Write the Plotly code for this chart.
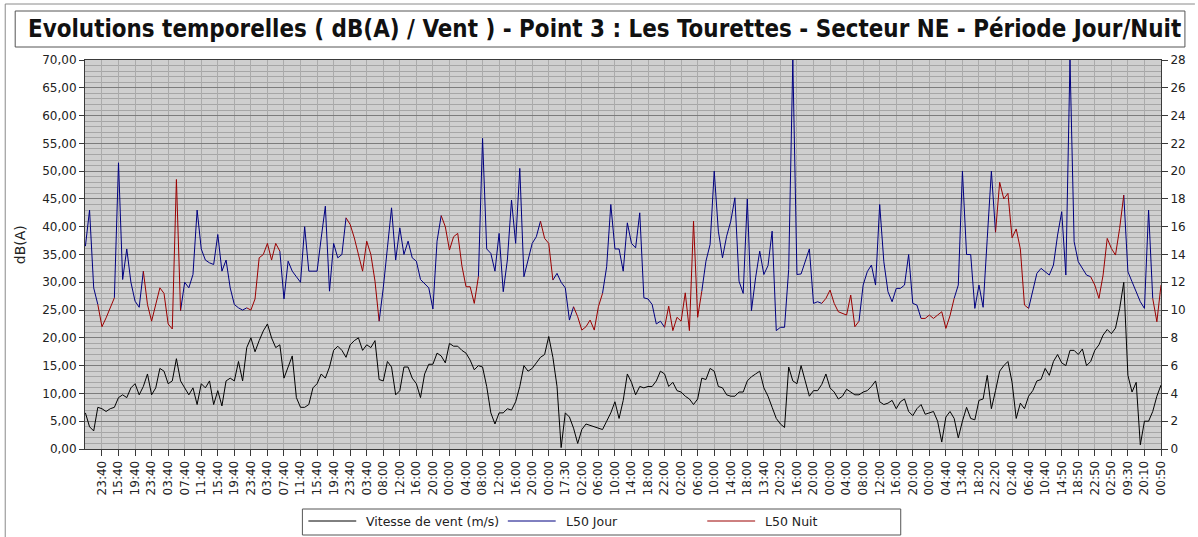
import plotly.graph_objects as go

# Time-of-day labels shown every 4 hours along the x axis
tick_labels = [
    "23:40", "15:40", "19:40", "23:40", "03:40", "07:40", "11:40", "15:40", "19:40", "23:40",
    "03:40", "07:40", "11:40", "15:40", "19:40", "23:40", "03:40", "08:00", "12:00", "16:00",
    "20:00", "00:00", "04:00", "08:00", "12:00", "16:00", "20:00", "00:00", "17:30", "02:00",
    "06:00", "10:00", "14:00", "18:00", "22:00", "02:00", "06:00", "10:00", "14:00", "18:00",
    "13:40", "20:20", "16:00", "20:00", "00:00", "04:00", "08:00", "12:00", "16:00", "20:00",
    "00:00", "04:40", "13:40", "18:20", "22:20", "02:40", "06:40", "10:40", "14:50", "18:50",
    "22:50", "02:50", "09:30", "20:10", "00:50",
]

# Hourly L50 level, dB(A)
l50 = [
    36.5, 43, 29, 26, 22, 23.6, 25.4, 27.2, 51.5, 30.5,
    36, 30, 26.6, 25.5, 32, 26, 23, 26, 29, 28,
    22.5, 21.6, 48.5, 24.9, 30, 29, 31.4, 43, 36, 34,
    33.5, 33.2, 38.6, 32, 34, 29, 26, 25.4, 25, 25.4,
    25, 27, 34.4, 35, 37, 34, 37, 35.6, 27, 33.8,
    32, 31, 30, 40, 32, 32, 32, 38, 43.7, 28.4,
    37, 34.4, 35, 41.6, 40.4, 38, 35, 32, 37.4, 35,
    30.2, 23, 29, 36.2, 43.4, 34, 39.8, 35, 37.4, 34.4,
    33.8, 30.5, 29.7, 29, 25.2, 37.4, 42, 40, 35.8, 38.2,
    38.8, 33, 29.2, 29.2, 26.2, 31, 55.9, 36, 35.2, 32,
    38.8, 28.3, 34, 44.8, 37, 50.5, 31, 34, 37, 38.2,
    41, 37.9, 37, 30.4, 31.6, 30, 29, 23.2, 25.6, 23.8,
    21.4, 22, 23.2, 21.4, 25.6, 28, 32.8, 44, 36, 36,
    32, 40.7, 37, 36.2, 42.5, 27.2, 27, 26, 22.5, 23,
    21.9, 25.7, 21.3, 23.7, 23, 28.1, 21.3, 41, 23.7, 28.4,
    33.8, 36.8, 50, 39.2, 34.4, 38.3, 41, 45.2, 30.2, 28,
    45, 24.9, 30.8, 35.6, 31.4, 33, 39.2, 21.3, 21.9, 21.9,
    32.3, 70, 31.4, 31.5, 33.7, 36, 26.2, 26.5, 26.2, 27.1,
    28.6, 26.2, 24.7, 24.4, 24.1, 27.7, 22, 23, 29.5, 31.9,
    33.1, 29.5, 44, 33.7, 28.3, 26.5, 28.9, 28.9, 29.5, 35,
    26.2, 25.9, 23.5, 23.5, 24.1, 23.5, 24.1, 24.7, 21.7, 24,
    27.1, 29.5, 50, 35, 35, 25.3, 29.5, 25.5, 37.9, 50,
    39, 48, 45, 46, 38, 39.6, 36, 25.9, 25.3, 28.3,
    31.6, 32.5, 31.9, 31.3, 33.1, 38.5, 42.7, 31.3, 70, 37.3,
    33.7, 32.5, 31.3, 31, 29.5, 27.1, 31.3, 37.9, 36.1, 34.9,
    39.7, 45.7, 31.9, 30.1, 28.3, 26.5, 25.3, 43, 27.1, 22.9,
    29.5,
]

# Hourly wind speed, m/s
wind = [
    2.6, 1.6, 1.3, 3.0, 2.9, 2.7, 2.9, 3.0, 3.7, 3.9,
    3.7, 4.4, 4.7, 3.9, 4.5, 5.4, 3.9, 4.4, 5.8, 5.6,
    4.7, 4.9, 6.5, 4.9, 4.4, 3.9, 4.4, 3.2, 4.7, 4.4,
    4.9, 3.2, 4.2, 3.1, 4.9, 5.1, 4.9, 6.3, 4.9, 7.3,
    8.0, 7.0, 7.8, 8.5, 9.0, 8.0, 7.3, 7.5, 5.1, 5.9,
    6.7, 3.7, 3.0, 3.0, 3.2, 4.4, 4.7, 5.4, 5.1, 5.9,
    7.1, 7.4, 7.1, 6.6, 7.5, 7.8, 8.0, 7.1, 7.5, 7.3,
    7.8, 5.0, 4.9, 6.3, 5.9, 3.9, 4.2, 5.9, 5.9, 5.1,
    4.7, 3.7, 5.4, 6.1, 6.1, 6.9, 6.7, 6.2, 7.6, 7.4,
    7.4, 7.1, 6.9, 6.4, 5.7, 6.0, 5.9, 4.5, 2.6, 1.8,
    2.6, 2.6, 2.9, 2.8, 3.4, 4.5, 6.0, 5.6, 5.8, 6.2,
    6.6, 6.8, 8.1, 6.6, 4.5, 0.1, 2.6, 2.3, 1.5, 0.4,
    1.4, 1.8, 1.7, 1.6, 1.55, 1.4, 2.0, 2.6, 3.4, 2.2,
    3.5, 5.4, 4.8, 3.9, 4.5, 4.4, 4.5, 4.5, 4.9, 5.6,
    5.4, 4.5, 4.8, 4.2, 4.1, 3.8, 3.6, 3.2, 3.6, 5.1,
    5.0, 5.8, 5.6, 4.5, 4.4, 3.9, 3.8, 3.8, 4.1, 4.1,
    4.9, 5.2, 5.4, 5.6, 4.4, 3.8, 3.0, 2.2, 1.8, 1.55,
    5.9, 4.9, 4.7, 6.0, 4.9, 3.8, 4.2, 4.2, 4.65, 5.4,
    4.4, 4.1, 3.6, 3.8, 4.3, 4.1, 3.9, 3.9, 4.1, 4.2,
    4.5, 4.9, 3.4, 3.2, 3.3, 3.5, 2.9, 3.4, 3.6, 2.7,
    2.4, 2.9, 3.2, 2.5, 2.6, 2.7, 2.0, 0.5, 2.3, 2.7,
    2.2, 0.8, 2.0, 3.0, 2.2, 2.1, 3.5, 3.6, 5.3, 2.9,
    4.2, 5.6, 6.0, 6.3, 4.8, 2.2, 3.3, 2.9, 3.8, 4.2,
    4.9, 5.0, 5.8, 5.3, 6.3, 6.8, 6.2, 6.0, 7.1, 7.1,
    6.8, 7.2, 6.0, 6.3, 7.1, 7.5, 8.2, 8.6, 8.3, 8.7,
    10.1, 12.0, 5.3, 4.1, 4.8, 0.3, 2.0, 2.0, 2.7, 3.8,
    4.6,
]

# Night periods (22h-06h) as inclusive index ranges of the hourly series
night_periods = [
    (3, 7), (14, 23), (39, 47), (63, 71), (86, 95), (110, 113), (118, 125),
    (140, 149), (178, 187), (202, 210), (220, 228), (243, 251), (258, 260),
]

n = len(l50)
idx = list(range(n))
is_night = [False] * n
night_inner = [False] * n
for a, b in night_periods:
    for i in range(a, b + 1):
        is_night[i] = True
    for i in range(a + 1, b):
        night_inner[i] = True

# Day and night curves share their boundary points so the line stays continuous
l50_jour = [None if night_inner[i] else v for i, v in enumerate(l50)]
l50_nuit = [v if is_night[i] else None for i, v in enumerate(l50)]

tick_vals = [4 + 4 * k for k in range(len(tick_labels))]

# Plot area geometry in pixels
W, H = 1198, 537
L, R, T, B = 85, 1164, 60, 449


def px(x):
    return (x - L) / (R - L)


def py(y):
    return (B - y) / (B - T)


BLUE = "#000080"
RED = "#9b0000"
AXIS = "#3a3a3a"
TXT = "#222222"
FONT = "DejaVu Sans"

fig = go.Figure()
fig.add_trace(go.Scatter(x=idx, y=wind, yaxis="y2", mode="lines",
                         line=dict(color="#000000", width=1),
                         name="Vitesse de vent (m/s)"))
fig.add_trace(go.Scatter(x=idx, y=l50_jour, mode="lines",
                         line=dict(color=BLUE, width=1), name="L50 Jour"))
fig.add_trace(go.Scatter(x=idx, y=l50_nuit, mode="lines",
                         line=dict(color=RED, width=1), name="L50 Nuit"))

shapes = []
annotations = []

# Outer frame (left and top edges)
shapes.append(dict(type="line", xref="paper", yref="paper",
                   x0=px(5), x1=px(5), y0=py(4), y1=py(537),
                   line=dict(color="#8a8a8a", width=1)))
shapes.append(dict(type="line", xref="paper", yref="paper",
                   x0=px(5), x1=px(1198), y0=py(4), y1=py(4),
                   line=dict(color="#8a8a8a", width=1)))

# Title frame and title
shapes.append(dict(type="rect", xref="paper", yref="paper",
                   x0=px(15), x1=px(1188), y0=py(47), y1=py(11),
                   line=dict(color="#555555", width=1), fillcolor="white", layer="below"))
annotations.append(dict(
    text="<b>Evolutions temporelles ( dB(A) / Vent ) - Point 3 : Les Tourettes - Secteur NE - Période Jour/Nuit</b>",
    xref="paper", yref="paper", x=px(606), y=py(29), xanchor="center", yanchor="middle",
    showarrow=False,
    font=dict(family="DejaVu Sans Condensed, DejaVu Sans", size=23.9, color="#111111")))

# Left axis title
annotations.append(dict(text="dB(A)", xref="paper", yref="paper", x=px(20), y=py(245),
                        xanchor="center", yanchor="middle", textangle=-90, showarrow=False,
                        font=dict(family=FONT, size=14, color=TXT)))

# Legend frame with line samples
shapes.append(dict(type="rect", xref="paper", yref="paper",
                   x0=px(303), x1=px(903), y0=py(535), y1=py(509),
                   line=dict(color="#555555", width=1), fillcolor="white"))
legend_items = [("Vitesse de vent (m/s)", "#000000", 309), ("L50 Jour", BLUE, 509), ("L50 Nuit", RED, 709)]
for label, color, x0 in legend_items:
    shapes.append(dict(type="line", xref="paper", yref="paper",
                       x0=px(x0), x1=px(x0 + 48), y0=py(521), y1=py(521),
                       line=dict(color=color, width=1)))
    annotations.append(dict(text=label, xref="paper", yref="paper", x=px(x0 + 56), y=py(521.5),
                            xanchor="left", yanchor="middle", showarrow=False,
                            font=dict(family=FONT, size=12.5, color=TXT)))

fig.update_layout(
    width=W, height=H,
    margin=dict(l=L, r=W - R, t=T, b=H - B, pad=0),
    paper_bgcolor="white",
    plot_bgcolor="#cfcfcf",
    separators=",.",
    showlegend=False,
    font=dict(family=FONT, size=12, color=TXT),
    xaxis=dict(
        range=[-0.1, n - 1], tickmode="array", tickvals=tick_vals, ticktext=tick_labels,
        tickangle=-90, ticks="outside", ticklen=6, tickcolor=AXIS,
        showgrid=True, gridcolor="#ababab", gridwidth=1,
        showline=True, linecolor=AXIS, mirror=True, zeroline=False,
        tickfont=dict(family=FONT, size=12, color=TXT),
    ),
    yaxis=dict(
        range=[0, 70], tick0=0, dtick=5, tickformat=".2f",
        ticks="outside", ticklen=5, tickcolor=AXIS,
        showgrid=True, gridcolor="#7c7c7c", gridwidth=1,
        minor=dict(dtick=1, showgrid=True, gridcolor="#a6a6a6", gridwidth=1, ticks=""),
        showline=True, linecolor=AXIS, zeroline=False,
        tickfont=dict(family=FONT, size=12, color=TXT),
    ),
    yaxis2=dict(
        range=[0, 28], tick0=0, dtick=2, overlaying="y", side="right",
        ticks="outside", ticklen=6, tickcolor=AXIS, showgrid=False,
        showline=True, linecolor=AXIS, zeroline=False,
        tickfont=dict(family=FONT, size=12, color=TXT),
    ),
    shapes=shapes,
    annotations=annotations,
)

fig.write_html("out.html")
